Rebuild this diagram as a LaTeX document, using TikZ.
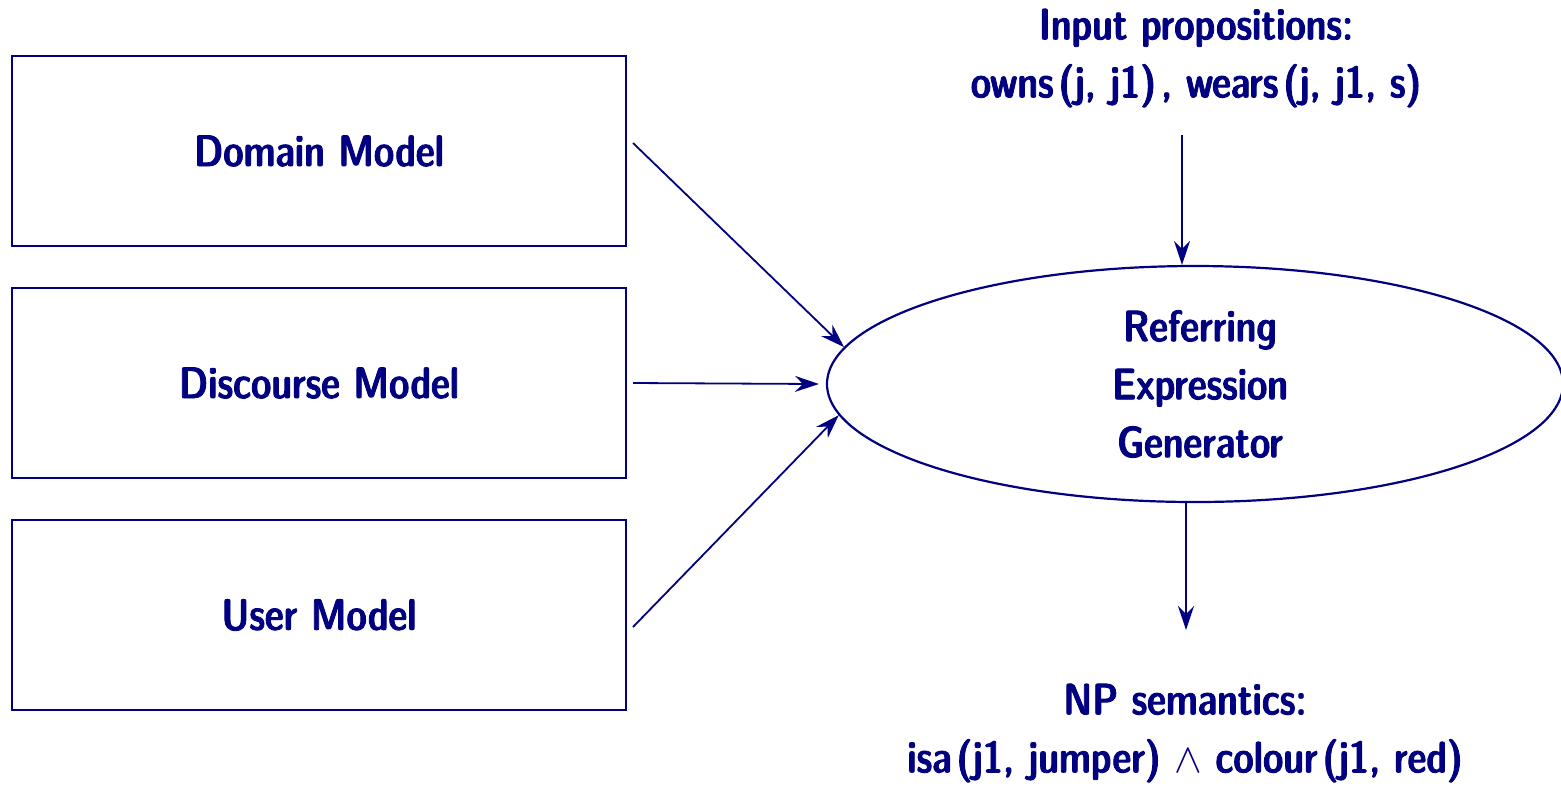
\documentclass[tikz,border=0pt]{standalone}
\usepackage{fontspec}
\usetikzlibrary{shapes.geometric,arrows.meta}
\definecolor{ink}{RGB}{0,0,128}
\newfontfamily\lblfont{lmsansdemicond10-regular.otf}[FakeBold=1.9,FakeStretch=0.97]
\begin{document}
\begin{tikzpicture}[x=0.5pt,y=-0.5pt,
  every node/.style={text=ink,font=\lblfont\fontsize{22}{29}\selectfont,align=center},
  modelbox/.style={draw=ink,line width=1pt,minimum width=307pt,minimum height=95pt,inner sep=0pt},
  gen/.style={draw=ink,line width=1.1pt,ellipse,minimum width=368pt,minimum height=118pt,inner sep=0pt},
  arr/.style={draw=ink,line width=0.9pt,-{Stealth[length=12pt,width=8pt,inset=4pt]}}]
\useasboundingbox (0,0) rectangle (1561,789);
\clip (0,0) rectangle (1561,789);
% source models
\node[modelbox] (dm) at (319,151) {Domain Model};
\node[modelbox] (dc) at (319,383) {Discourse Model};
\node[modelbox] (um) at (319,615) {User Model};
% generator
\node[gen] (gen) at (1195,384) {};
\node (genlbl) at (1200,384) {Referring\\Expression\\Generator};
% input and output texts
\node (inp) at (1196,58) {Input propositions:\\owns\kern2.5pt(j, j1)\kern2.5pt, wears\kern2.5pt(j, j1, s)};
\node (np) at (1185,733) {NP semantics:\\isa\kern2.5pt(j1, jumper) $\wedge$ colour\kern2.5pt(j1, red)};
% connectors
\coordinate (intop) at (1182,135);
\coordinate (npin) at (1186,630);
\draw[arr] ([shift={(6,-8)}]dm.east) -- (gen.174.5);
\draw[arr] ([xshift=3pt]dc.east) -- ([xshift=-3.5pt]gen.west);
\draw[arr] ([shift={(6,12)}]um.east) -- (gen.185.5);
\draw[arr] (intop) -- (intop |- gen.north);
\draw[arr] (gen.south -| npin) -- (npin);
\end{tikzpicture}
\end{document}
